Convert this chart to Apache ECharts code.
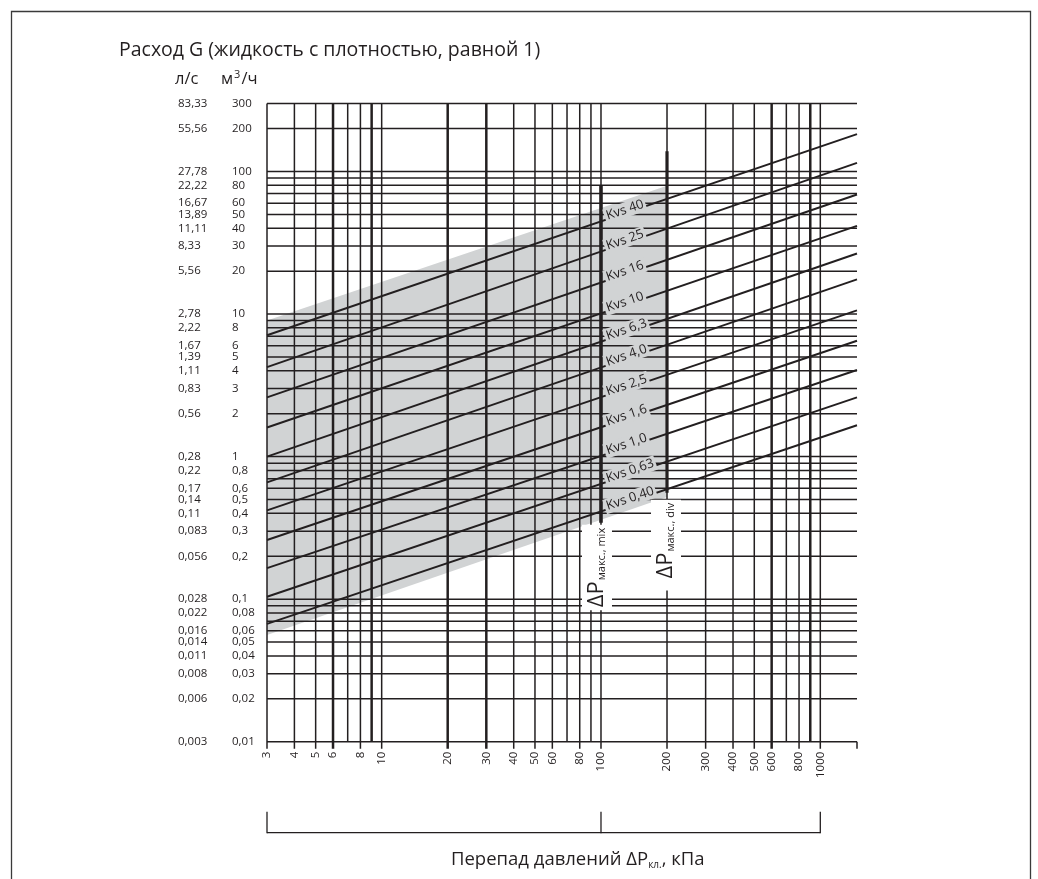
<!DOCTYPE html>
<html>
<head>
<meta charset="utf-8">
<script src="https://cdn.jsdelivr.net/npm/echarts@6.0.0/dist/echarts.min.js"></script>
<style>
html,body{margin:0;padding:0;background:#fff;}
#c{width:1038px;height:879px;}
</style>
</head>
<body>
<div id="c"></div>
<script>
// ---------------- data ----------------
const dpMin = 3, dpMax = 1470;          // kPa, x-axis range
const qMin = 0.01, qMax = 300;          // m3/h, y-axis range

const dpGrid = [3,4,5,6,7,8,9,10,20,30,40,50,60,70,80,90,100,200,300,400,500,600,700,800,900,1000];
const dpThick = [6,9,20,30,600,900];
const dpTicks = [3,4,5,6,8,10,20,30,40,50,60,80,100,200,300,400,500,600,800,1000];

const flowGrid = [300,200,100,90,80,70,60,50,40,30,20,10,9,8,7,6,5,4,3,2,1,0.9,0.8,0.7,0.6,0.5,0.4,0.3,0.2,0.1,0.09,0.08,0.07,0.06,0.05,0.04,0.03,0.02,0.01];
const flowTicks = [300,200,100,80,60,50,40,30,20,10,8,6,5,4,3,2,1,0.8,0.6,0.5,0.4,0.3,0.2,0.1,0.08,0.06,0.05,0.04,0.03,0.02,0.01];
const flowTickM3h = ['300','200','100','80','60','50','40','30','20','10','8','6','5','4','3','2','1','0,8','0,6','0,5','0,4','0,3','0,2','0,1','0,08','0,06','0,05','0,04','0,03','0,02','0,01'];
const flowTickLs = ['83,33','55,56','27,78','22,22','16,67','13,89','11,11','8,33','5,56','2,78','2,22','1,67','1,39','1,11','0,83','0,56','0,28','0,22','0,17','0,14','0,11','0,083','0,056','0,028','0,022','0,016','0,014','0,011','0,008','0,006','0,003'];

const kvsNames = ['Kvs 40','Kvs 25','Kvs 16','Kvs 10','Kvs 6,3','Kvs 4,0','Kvs 2,5','Kvs 1,6','Kvs 1,0','Kvs 0,63','Kvs 0,40'];
const kvsAtLeft = [7.1, 4.25, 2.6, 1.6, 1.0, 0.66, 0.42, 0.26, 0.165, 0.104, 0.067];   // flow at dpMin
const kvsAtRight = [183, 115, 69, 41.5, 26.6, 17.5, 10.6, 6.5, 4.05, 2.6, 1.66];       // flow at dpMax
const kvsLabelDp = 105;

const bandPoly = [[3, 9.0], [200, 79.5], [200, 0.52], [3, 0.056]];
const mixLine = [[100, 80], [100, 0.343]];
const divLine = [[200, 139], [200, 0.557]];

const titleText = 'Расход G (жидкость с плотностью, равной 1)';
const unitLs = 'л/с';
const unitM3h = 'м{sup|3}/ч';
const xTitle = 'Перепад давлений ΔP{sub|кл.}, кПа';
const mixLabel = 'ΔP{sub|макс., mix}';
const divLabel = 'ΔP{sub|макс., div}';
const bracketDp = [3, 100, 1000];

// ---------------- drawing ----------------
const FONT = '"Open Sans", "Noto Sans", sans-serif';
const INK = '#231f20';
const GRAY = '#d1d3d4';
const LW = 1.5;

function seg(a, b, w, color) {
  return {type: 'line', shape: {x1: a[0], y1: a[1], x2: b[0], y2: b[1]}, style: {stroke: color || INK, lineWidth: w}};
}

const chart = echarts.init(document.getElementById('c'), null, {renderer: 'canvas'});

const series = [];

// gray band
series.push({
  type: 'custom', coordinateSystem: 'cartesian2d', silent: true, clip: false, z: 1,
  data: [[dpMin, qMin]], encode: {x: 0, y: 1},
  renderItem: (p, api) => ({
    type: 'polygon', shape: {points: bandPoly.map(pt => api.coord(pt))}, style: {fill: GRAY}
  })
});

// vertical grid lines
series.push({
  type: 'custom', coordinateSystem: 'cartesian2d', silent: true, clip: false, z: 2,
  data: dpGrid.map(v => [v, qMin]), encode: {x: 0, y: 1},
  renderItem: (p, api) => {
    const v = api.value(0);
    const a = api.coord([v, qMin]), b = api.coord([v, qMax]);
    const ext = dpTicks.indexOf(v) >= 0 ? 7 : 0;
    return seg([a[0], a[1] + ext], b, dpThick.indexOf(v) >= 0 ? 2.5 : LW);
  }
});

// horizontal grid lines
series.push({
  type: 'custom', coordinateSystem: 'cartesian2d', silent: true, clip: false, z: 2,
  data: flowGrid.map(v => [dpMin, v]), encode: {x: 0, y: 1},
  renderItem: (p, api) => {
    const v = api.value(1);
    return seg(api.coord([dpMin, v]), api.coord([dpMax, v]), LW);
  }
});

// Kvs lines
kvsNames.forEach((n, i) => {
  series.push({
    type: 'line', name: n, silent: true, z: 3, symbol: 'none', animation: false,
    data: [[dpMin, kvsAtLeft[i]], [dpMax, kvsAtRight[i]]],
    lineStyle: {color: INK, width: 1.9}
  });
});

// ΔP max lines
series.push({type: 'line', silent: true, z: 4, symbol: 'none', animation: false, data: mixLine, lineStyle: {color: INK, width: 3.6}});
series.push({type: 'line', silent: true, z: 4, symbol: 'none', animation: false, data: divLine, lineStyle: {color: INK, width: 3.2}});

// Kvs labels
series.push({
  type: 'custom', coordinateSystem: 'cartesian2d', silent: true, clip: false, z: 5,
  data: kvsNames.map((n, i) => [dpMin, kvsAtLeft[i], i]), encode: {x: 0, y: 1},
  renderItem: (p, api) => {
    const i = api.value(2);
    const a = api.coord([dpMin, kvsAtLeft[i]]), b = api.coord([dpMax, kvsAtRight[i]]);
    const ax = api.coord([kvsLabelDp, 1])[0];
    const t = (ax - a[0]) / (b[0] - a[0]);
    const ay = a[1] + t * (b[1] - a[1]);
    const ang = Math.atan2(a[1] - b[1], b[0] - a[0]);
    return {
      type: 'text', x: ax, y: ay, rotation: ang,
      style: {text: kvsNames[i], x: 0, y: -3, fill: INK, font: '13px ' + FONT, align: 'left', verticalAlign: 'middle',
              backgroundColor: GRAY, padding: [1, 2, 1, 2]}
    };
  }
});

// ΔP label boxes
series.push({
  type: 'custom', coordinateSystem: 'cartesian2d', silent: true, clip: false, z: 6,
  data: [[mixLine[1][0], mixLine[1][1], 0], [divLine[1][0], divLine[1][1], 1]], encode: {x: 0, y: 1},
  renderItem: (p, api) => {
    const k = api.value(2);
    const c = api.coord([api.value(0), api.value(1)]);
    return {
      type: 'text', x: c[0] - (k === 0 ? 4 : 1), y: c[1] + (k === 0 ? 2 : 7), rotation: Math.PI / 2,
      style: {
        text: k === 0 ? mixLabel : divLabel, fill: INK, font: '22px ' + FONT, align: 'right', verticalAlign: 'middle',
        backgroundColor: '#fff', padding: k === 0 ? [4, 3, 4, 3] : [4, 3, 4, 12],
        rich: {sub: {fontSize: 11, fontFamily: FONT, fill: INK, padding: [10, 0, 0, 1]}}
      }
    };
  }
});

// axis tick labels (y: two columns, x: rotated)
series.push({
  type: 'custom', coordinateSystem: 'cartesian2d', silent: true, clip: false, z: 6,
  data: flowTicks.map((v, i) => [dpMin, v, i]), encode: {x: 0, y: 1},
  renderItem: (p, api) => {
    const i = api.value(2);
    const c = api.coord([dpMin, flowTicks[i]]);
    const st = {fill: INK, font: '11.5px ' + FONT, align: 'left', verticalAlign: 'middle'};
    return {type: 'group', children: [
      {type: 'text', x: c[0] - 89, y: c[1], style: Object.assign({text: flowTickLs[i]}, st)},
      {type: 'text', x: c[0] - 35, y: c[1], style: Object.assign({text: flowTickM3h[i]}, st)}
    ]};
  }
});
series.push({
  type: 'custom', coordinateSystem: 'cartesian2d', silent: true, clip: false, z: 6,
  data: dpTicks.map(v => [v, qMin]), encode: {x: 0, y: 1},
  renderItem: (p, api) => {
    const v = api.value(0);
    const c = api.coord([v, qMin]);
    return {type: 'text', x: c[0], y: c[1] + 10, rotation: Math.PI / 2,
      style: {text: String(v), fill: INK, font: '11.5px ' + FONT, align: 'right', verticalAlign: 'middle'}};
  }
});

// right-edge tick, bracket under the x axis, axis titles
series.push({
  type: 'custom', coordinateSystem: 'cartesian2d', silent: true, clip: false, z: 6,
  data: [[dpMin, qMin]], encode: {x: 0, y: 1},
  renderItem: (p, api) => {
    const o = api.coord([dpMin, qMin]);
    const r = api.coord([dpMax, qMin]);
    const q = api.coord([dpMin, qMax]);
    const by = o[1] + 91;
    const xs = bracketDp.map(v => api.coord([v, qMin])[0]);
    const kids = [seg([r[0], r[1]], [r[0], r[1] + 7], LW), seg([xs[0], by], [xs[2], by], 1.3)];
    xs.forEach(x => kids.push(seg([x, by - 21], [x, by + 0.6], 1.3)));
    kids.push({type: 'text', x: xs[1] - 150, y: by + 27, style: {
      text: xTitle, fill: INK, font: '18.5px ' + FONT, align: 'left', verticalAlign: 'middle',
      rich: {sub: {fontSize: 10, fontFamily: FONT, fill: INK, padding: [10, 0, 0, 0]}}}});
    kids.push({type: 'text', x: o[0] - 92, y: q[1] - 24, style: {text: unitLs, fill: INK, font: '16.5px ' + FONT, align: 'left', verticalAlign: 'middle'}});
    kids.push({type: 'text', x: o[0] - 46, y: q[1] - 24, style: {text: unitM3h, fill: INK, font: '16.5px ' + FONT, align: 'left', verticalAlign: 'middle',
      rich: {sup: {fontSize: 11, fontFamily: FONT, fill: INK, padding: [0, 1, 9, 1]}}}});
    kids.push({type: 'text', x: o[0] - 148, y: q[1] - 53, style: {text: titleText, fill: INK, font: '19.5px ' + FONT, align: 'left', verticalAlign: 'middle'}});
    return {type: 'group', children: kids};
  }
});

const option = {
  animation: false,
  backgroundColor: '#fff',
  grid: {left: 267, right: 181, top: 103.5, bottom: 137.3, containLabel: false, outerBoundsMode: 'none'},
  xAxis: {type: 'log', logBase: 10, min: dpMin, max: dpMax,
    axisLine: {show: false}, axisTick: {show: false}, axisLabel: {show: false}, splitLine: {show: false}, minorSplitLine: {show: false}},
  yAxis: {type: 'log', logBase: 10, min: qMin, max: qMax,
    axisLine: {show: false}, axisTick: {show: false}, axisLabel: {show: false}, splitLine: {show: false}, minorSplitLine: {show: false}},
  graphic: [{type: 'rect', left: 9, top: 9, shape: {width: 1019, height: 900}, style: {fill: 'none', stroke: '#3a3a3a', lineWidth: 1.3}, silent: true, z: -1}],
  series: series
};
chart.setOption(option);
</script>
</body>
</html>
